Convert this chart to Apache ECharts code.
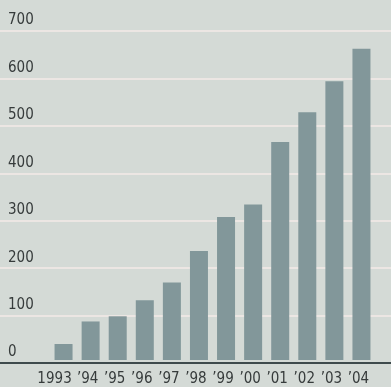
<!DOCTYPE html>
<html>
<head>
<meta charset="utf-8">
<script src="https://cdn.jsdelivr.net/npm/echarts@6/dist/echarts.min.js"></script>
<style>
html,body{margin:0;padding:0;background:#d4dad6;}
#chart{width:391px;height:387px;}
</style>
</head>
<body>
<div id="chart"></div>
<script>
// 年份和数值
var years = ['1993', '\u201994', '\u201995', '\u201996', '\u201997', '\u201998', '\u201999', '\u201900', '\u201901', '\u201902', '\u201903', '\u201904'];
var values = [34, 82, 93, 127, 165, 232, 304, 331, 464, 527, 593, 662];
var yTicks = [0, 100, 200, 300, 400, 500, 600, 700];

var font = '"Liberation Sans Narrow", "DejaVu Sans Condensed", sans-serif';
var chart = echarts.init(document.getElementById('chart'));
chart.setOption({
  backgroundColor: '#d4dad6',
  animation: false,
  grid: [
    {left: 0, right: 0, top: 31, bottom: 24},
    {left: 50, right: 16, top: 31, bottom: 24}
  ],
  xAxis: [
    {gridIndex: 0, type: 'value', min: 0, max: 1, show: true,
     axisLine: {show: true, lineStyle: {color: '#3e4a4c', width: 2}},
     axisTick: {show: false}, axisLabel: {show: false}, splitLine: {show: false}},
    {gridIndex: 1, type: 'category', data: years,
     axisLine: {show: false}, axisTick: {show: false},
     axisLabel: {interval: 0, hideOverlap: false, color: '#363b3b', fontFamily: font,
       fontSize: 15, margin: 12,
       formatter: function (v, i) { return i === 0 ? '{a|' + v + '}' : '{b|' + v + '}'; },
       rich: {
         a: {fontFamily: font, fontSize: 15, color: '#363b3b', padding: [0, 18, 0, 0]},
         b: {fontFamily: font, fontSize: 15, color: '#363b3b', padding: [0, 6, 0, 0]}
       }}}
  ],
  yAxis: [
    {gridIndex: 0, type: 'value', min: 0, max: 700, interval: 100,
     axisLine: {show: false}, axisTick: {show: false},
     axisLabel: {inside: true, align: 'left', margin: 8, verticalAlign: 'bottom',
       padding: [0, 0, 3, 0], color: '#363b3b', fontFamily: font, fontSize: 15,
       formatter: function (v) { return yTicks.indexOf(v) >= 0 ? String(v) : ''; }},
     splitLine: {lineStyle: {color: '#ece6e3', width: 2}}},
    {gridIndex: 1, type: 'value', min: 0, max: 700, show: false}
  ],
  series: [{
    type: 'bar', xAxisIndex: 1, yAxisIndex: 1,
    data: values, barWidth: 18,
    itemStyle: {color: '#82979a'}
  }]
});
</script>
</body>
</html>
